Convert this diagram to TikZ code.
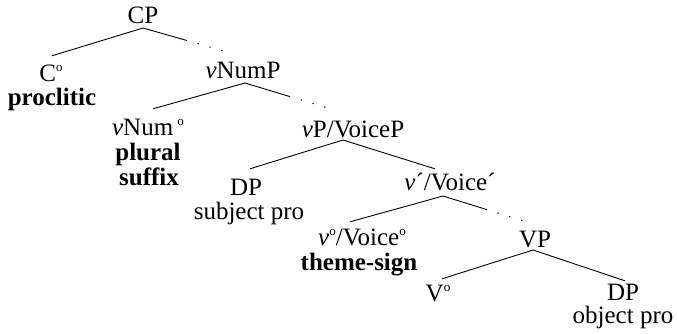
\documentclass[tikz,border=0pt]{standalone}
\usepackage{fontspec}
\setmainfont{Liberation Serif}
\usetikzlibrary{calc}
\newcommand{\hdeg}{\raisebox{10pt}{\fontsize{13}{13}\selectfont\mdseries o}}
\begin{document}
\begin{tikzpicture}[x=1pt,y=-1pt,
  lab/.style={anchor=base,inner sep=0pt,text height=16pt,text depth=0pt,font=\fontsize{25}{26}\selectfont},
  gloss/.style={anchor=base,inner sep=0pt,font=\fontsize{25}{26}\selectfont},
  bgloss/.style={gloss,font=\fontsize{25}{26}\selectfont\bfseries},
  br/.style={line width=0.9pt},
  dotpart/.style={line width=1pt,dash pattern=on 1.3pt off 11pt,dash phase=1.3pt}]
\useasboundingbox (0,0) rectangle (677,333);
\node[lab] (CP) at (143,23) {CP};
\node[lab] (C) at (51,81) {C\hdeg};
\node[bgloss] (procl) at (52,105) {proclitic};
\node[lab] (vNumP) at (243,78) {\textit{v}NumP};
\node[lab] (vNum) at (148,135) {\textit{v}Num\,\hdeg};
\node[bgloss] (plural) at (148,160) {plural};
\node[bgloss] (suffix) at (149,185) {suffix};
\node[lab] (vP) at (353,137) {\textit{v}P/VoiceP};
\node[lab] (DPa) at (246,195) {DP};
\node[gloss] (subj) at (249,219) {subject pro};
\node[lab] (vbar) at (450,190) {\textit{v}´/Voice´};
\node[lab] (vhead) at (362,245) {\textit{v}\hdeg/Voice\hdeg};
\node[bgloss] (theme) at (359,270) {theme-sign};
\node[lab] (VP) at (535,247) {VP};
\node[lab] (V) at (438,301) {V\hdeg};
\node[lab] (DPb) at (623,300) {DP};
\node[gloss] (obj) at (623,323) {object pro};
% CP
\coordinate (CPa) at ($(CP.base)+(0,5)$);
\coordinate (CPr) at ($(vNumP.north)+(-20,-11)$);
\draw[br] (CPa) -- ($(C.north)+(1,-9)$);
\draw[br] (CPa) -- ($(CPa)!0.55!(CPr)$);
\draw[dotpart] ($(CPa)!0.55!(CPr)$) -- (CPr);
% vNumP
\coordinate (NPa) at ($(vNumP.base)+(2,5)$);
\coordinate (NPr) at ($(vP.north)+(-26,-13)$);
\draw[br] (NPa) -- ($(vNum.north)+(5,-10)$);
\draw[br] (NPa) -- ($(NPa)!0.55!(NPr)$);
\draw[dotpart] ($(NPa)!0.55!(NPr)$) -- (NPr);
% vP
\coordinate (vPa) at ($(vP.base)+(-10,3)$);
\draw[br] (vPa) -- ($(DPa.north)+(4,-10)$);
\draw[br] (vPa) -- ($(vbar.north)+(-15,-5)$);
% v'
\coordinate (vba) at ($(vbar.base)+(-7,6)$);
\coordinate (vbr) at ($(VP.north)+(-12,-10)$);
\draw[br] (vba) -- ($(vhead.north)+(-12,-7)$);
\draw[br] (vba) -- ($(vba)!0.55!(vbr)$);
\draw[dotpart] ($(vba)!0.55!(vbr)$) -- (vbr);
% VP
\coordinate (VPa) at ($(VP.base)+(-2,3)$);
\draw[br] (VPa) -- ($(V.north)+(4,-6)$);
\draw[br] (VPa) -- ($(DPb.north)+(2,-3)$);
\end{tikzpicture}
\end{document}
